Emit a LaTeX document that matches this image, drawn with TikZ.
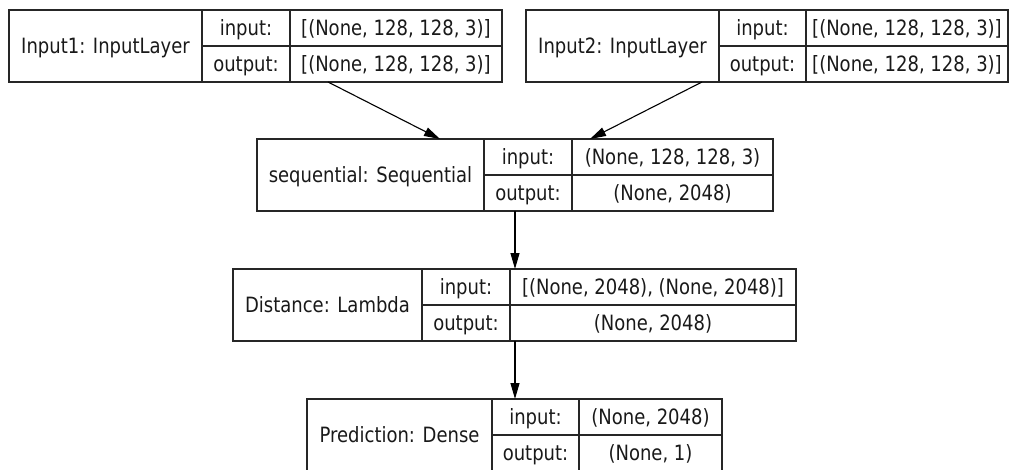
\documentclass[tikz,border=0pt]{standalone}
\usepackage{fontspec}
\usepackage{graphicx}
\setmainfont{DejaVu Sans}
\usetikzlibrary{arrows.meta}

\tikzset{
  recbox/.style={draw=black!85, line width=1.3pt, inner sep=0pt, outer sep=0pt, anchor=north west},
  recline/.style={draw=black!85, line width=1.3pt},
  rectext/.style={anchor=base, inner sep=0pt, text=black!90,
                  font=\fontsize{18}{21}\selectfont},
  flow/.style={draw=black, line width=1.1pt,
               -{Triangle[length=16pt, width=9pt]}, shorten >=0pt},
}

% labels are set slightly taller than wide
\newcommand\tallrec[1]{\scalebox{1}[1.17]{#1}}

% One Keras layer record: name, x0, x1, x2, x3 (column edges), top y,
% layer title, input shape, output shape. Every record is 72 units high.
\newcommand\layerrec[9]{%
  \node[recbox, minimum width={#5pt-#2pt}, minimum height=72pt] (#1) at (#2,#6) {};
  \draw[recline] (#3,#6) -- (#3,{#6+72});
  \draw[recline] (#4,#6) -- (#4,{#6+72});
  \draw[recline] (#3,{#6+36}) -- (#5,{#6+36});
  \node[rectext] (#1-title) at ({(#2+#3)/2},{#6+36+7.5}) {\tallrec{#7}};
  \node[rectext] (#1-inlbl) at ({(#3+#4)/2},{#6+18+7.5}) {\tallrec{input:}};
  \node[rectext] (#1-outlbl) at ({(#3+#4)/2},{#6+54+7.5}) {\tallrec{output:}};
  \node[rectext] (#1-inval) at ({(#4+#5)/2},{#6+18+7.5}) {\tallrec{#8}};
  \node[rectext] (#1-outval) at ({(#4+#5)/2},{#6+54+7.5}) {\tallrec{#9}};
}

\begin{document}
\begin{tikzpicture}[x=1pt, y=-1pt]
  \useasboundingbox (0,0) rectangle (1009,469);
  \clip (0,0) rectangle (1009,469);

  \layerrec{inA}{9}{202}{290}{502}{10}{Input1: InputLayer}{[(None, 128, 128, 3)]}{[(None, 128, 128, 3)]}
  \layerrec{inB}{526}{719}{806}{1008}{10}{Input2: InputLayer}{[(None, 128, 128, 3)]}{[(None, 128, 128, 3)]}
  \layerrec{seq}{257}{484}{572}{773}{139}{sequential: Sequential}{(None, 128, 128, 3)}{(None, 2048)}
  \layerrec{dist}{233}{422}{510}{796}{269}{Distance: Lambda}{[(None, 2048), (None, 2048)]}{(None, 2048)}
  \layerrec{pred}{307}{492}{579}{722}{399}{Prediction: Dense}{(None, 2048)}{(None, 1)}

  % connectors between the layer records
  \draw[flow] ([xshift=319pt]inA.south west) -- ([xshift=183pt]seq.north west);
  \draw[flow] ([xshift=176pt]inB.south west) -- ([xshift=333pt]seq.north west);
  \draw[flow] ([xshift=258pt]seq.south west) -- ([xshift=282pt]dist.north west);
  \draw[flow] ([xshift=282pt]dist.south west) -- ([xshift=208pt]pred.north west);
\end{tikzpicture}
\end{document}
